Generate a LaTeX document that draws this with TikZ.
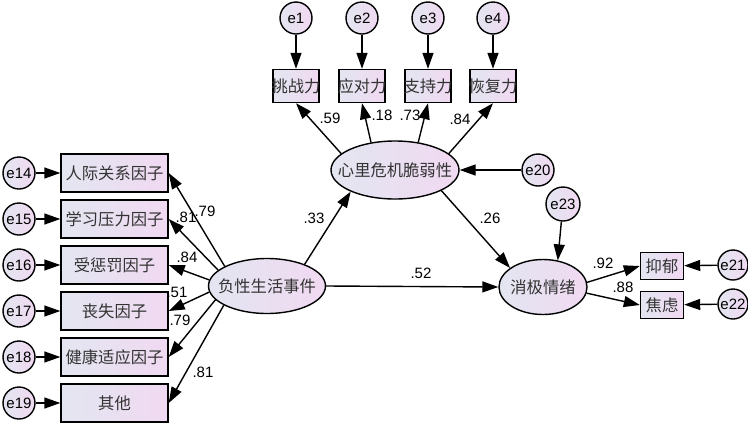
\documentclass[tikz,border=0pt]{standalone}
\usepackage{fontspec}
\setmainfont{Liberation Sans}
\newfontfamily\cjk{Noto Sans CJK SC}
\usetikzlibrary{arrows.meta,shapes.geometric}
\definecolor{fillL}{HTML}{E3E6F0}
\definecolor{fillR}{HTML}{F0D9F2}
\definecolor{txt}{HTML}{333333}
\begin{document}
\begin{tikzpicture}[x=1pt,y=-1pt,
 base/.style={draw=black, line width=1.4pt, left color=fillL, right color=fillR, inner sep=0pt},
 obsbox/.style={base, rectangle, font=\cjk\fontsize{16.3}{16.3}\selectfont, text=txt},
 latent/.style={base, ellipse},
 lattext/.style={font=\cjk\fontsize{16.3}{16.3}\selectfont, text=txt},
 errc/.style={base, circle, minimum size=32pt, font=\fontsize{15}{15}\selectfont, text=black},
 coef/.style={font=\fontsize{15}{15}\selectfont, text=black, inner sep=0pt},
 arr/.style={line width=1.4pt, -{Triangle[length=16pt,width=11pt]}},
]
\useasboundingbox (0,0) rectangle (748,424);

% latent variables
\node[latent, minimum width=117pt, minimum height=55pt, label={[lattext]center:负性生活事件}] (ne) at (267,286) {};
\node[latent, minimum width=128pt, minimum height=58pt, label={[lattext]center:心里危机脆弱性}] (ve) at (395,170) {};
\node[latent, minimum width=88pt, minimum height=55pt, label={[lattext]center:消极情绪}] (neg) at (543,287) {};

% left observed
\node[obsbox, minimum width=107pt, minimum height=38pt] (b1) at (114.5,173) {人际关系因子};
\node[obsbox, minimum width=107pt, minimum height=38pt] (b2) at (114.5,219) {学习压力因子};
\node[obsbox, minimum width=107pt, minimum height=38pt] (b3) at (114.5,265) {受惩罚因子};
\node[obsbox, minimum width=107pt, minimum height=38pt] (b4) at (114.5,311) {丧失因子};
\node[obsbox, minimum width=107pt, minimum height=38pt] (b5) at (114.5,357) {健康适应因子};
\node[obsbox, minimum width=107pt, minimum height=38pt] (b6) at (114.5,403) {其他};

\node[errc] (e14) at (19,173) {e14};
\node[errc] (e15) at (19,219) {e15};
\node[errc] (e16) at (19,265) {e16};
\node[errc] (e17) at (19,311) {e17};
\node[errc] (e18) at (19,357) {e18};
\node[errc] (e19) at (19,403) {e19};

% top observed
\node[obsbox, minimum width=46pt, minimum height=33pt] (t1) at (296,86) {\makebox[40pt]{挑战力}};
\node[obsbox, minimum width=46pt, minimum height=33pt] (t2) at (362,86) {\makebox[40pt]{应对力}};
\node[obsbox, minimum width=46pt, minimum height=33pt] (t3) at (428,86) {\makebox[40pt]{支持力}};
\node[obsbox, minimum width=46pt, minimum height=33pt] (t4) at (493,86) {\makebox[40pt]{恢复力}};

\node[errc] (e1) at (296,18) {e1};
\node[errc] (e2) at (362,18) {e2};
\node[errc] (e3) at (428,18) {e3};
\node[errc] (e4) at (493,18) {e4};

\node[errc] (e20) at (538,170) {e20};
\node[errc, minimum size=34pt] (e23) at (563,204) {e23};

% right observed
\node[obsbox, minimum width=43pt, minimum height=27pt] (r1) at (662,266) {抑郁};
\node[obsbox, minimum width=43pt, minimum height=27pt] (r2) at (662,305) {焦虑};
\node[errc, minimum size=30pt] (e21) at (733,265) {e21};
\node[errc, minimum size=30pt] (e22) at (733,304) {e22};

% error arrows
\foreach \e/\b in {e14/b1,e15/b2,e16/b3,e17/b4,e18/b5,e19/b6,e1/t1,e2/t2,e3/t3,e4/t4,e21/r1,e22/r2}
  \draw[arr] (\e) -- (\b);
\draw[arr] (e20) -- (ve.east);
\draw[arr] (e23) -- (neg.61);

% loadings of negative life events
\draw[arr] (ne.155) -- (b1.east);
\draw[arr] (ne.162) -- (b2.east);
\draw[arr] (ne.174) -- (b3.east);
\draw[arr] (ne.186) -- (b4.east);
\draw[arr] (ne.195) -- (b5.east);
\draw[arr] (ne.204) -- (b6.east);

% loadings of vulnerability
\draw[arr] (ve.163) -- (t1.south);
\draw[arr] (ve.131) -- (t2.south);
\draw[arr] (ve.50) -- (t3.south);
\draw[arr] (ve.17) -- (t4.south);

% loadings of negative emotion
\draw[arr] (neg.6) -- (r1.west);
\draw[arr] (neg.-8) -- (r2.west);

% structural paths
\draw[arr] (ne.30) -- (ve.206);
\draw[arr] (ve.336) -- (neg.150);
\draw[arr] (ne.east) -- (neg.west);

% coefficients
\node[coef] (c1) at (205,211) {.79};
\node[coef] (c2) at (186,217) {.81};
\node[coef] (c3) at (187,257) {.84};
\node[coef] (c4) at (177,292) {.51};
\node[coef] (c5) at (180,320) {.79};
\node[coef] (c6) at (203,372) {.81};
\node[coef] (c7) at (314,218) {.33};
\node[coef] (c8) at (330,118) {.59};
\node[coef] (c9) at (382,115) {.18};
\node[coef] (c10) at (410,115) {.73};
\node[coef] (c11) at (460,119) {.84};
\node[coef] (c12) at (490,218) {.26};
\node[coef] (c13) at (421,273) {.52};
\node[coef] (c14) at (603,263) {.92};
\node[coef] (c15) at (623,287) {.88};
\end{tikzpicture}
\end{document}
